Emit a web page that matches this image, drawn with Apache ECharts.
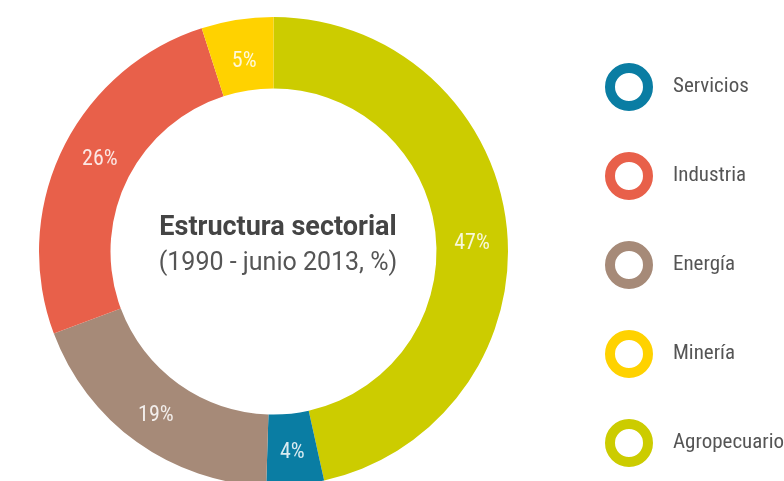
<!DOCTYPE html>
<html>
<head>
<meta charset="utf-8">
<script src="https://cdn.jsdelivr.net/npm/echarts@6/dist/echarts.min.js"></script>
<style>
  html, body { margin: 0; padding: 0; background: #fff; }
  #chart { width: 784px; height: 481px; }
</style>
</head>
<body>
<div id="chart"></div>
<script>
// Sector shares, clockwise from 12 o'clock
const sectors = ['Agropecuario', 'Servicios', 'Energía', 'Industria', 'Minería'];
const shares = [47, 4, 19, 26, 5];
const sectorColors = ['#cccc00', '#0a7da3', '#a68a78', '#e8604a', '#ffd200'];
// Legend reading order
const legendOrder = ['Servicios', 'Industria', 'Energía', 'Minería', 'Agropecuario'];

const NARROW = "'Liberation Sans Narrow', 'Roboto Condensed', Roboto, sans-serif";
const WIDE = "Roboto, 'Liberation Sans', sans-serif";

// small hand nudges for a few slice labels
const labelNudge = { 'Agropecuario': [-2, 14], 'Industria': [8, -4], 'Minería': [2, 9] };

const colorOf = name => sectorColors[sectors.indexOf(name)];

const chart = echarts.init(document.getElementById('chart'), null, { renderer: 'canvas' });

chart.setOption({
  animation: false,
  color: sectorColors,
  title: {
    text: 'Estructura sectorial',
    subtext: '(1990 - junio 2013, %)',
    left: 273,
    top: 210,
    textAlign: 'center',
    itemGap: 9,
    textStyle: { fontFamily: WIDE, fontSize: 27, fontWeight: 'bold', color: '#444' },
    subtextStyle: { fontFamily: WIDE, fontSize: 25, color: '#555' }
  },
  legend: {
    orient: 'vertical',
    left: 600,
    top: 58,
    icon: 'circle',
    itemWidth: 38,
    itemHeight: 38,
    itemGap: 41,
    data: legendOrder.map(name => ({
      name,
      itemStyle: { color: '#fff', borderColor: colorOf(name), borderWidth: 10 }
    })),
    textStyle: { fontFamily: NARROW, fontSize: 21, color: '#555', padding: [0, 0, 0, 20] }
  },
  series: [{
    type: 'pie',
    center: [273.5, 251.5],
    radius: [163, 234.5],
    startAngle: 90,
    clockwise: true,
    silent: true,
    label: {
      show: true,
      position: 'inside',
      formatter: '{c}%',
      fontFamily: NARROW,
      fontSize: 22,
      color: 'rgba(255,255,255,0.85)'
    },
    labelLine: { show: false },
    itemStyle: { borderWidth: 0 },
    data: sectors.map((name, i) => ({
      name,
      value: shares[i],
      label: labelNudge[name] ? { offset: labelNudge[name] } : undefined
    }))
  }]
});
</script>
</body>
</html>
